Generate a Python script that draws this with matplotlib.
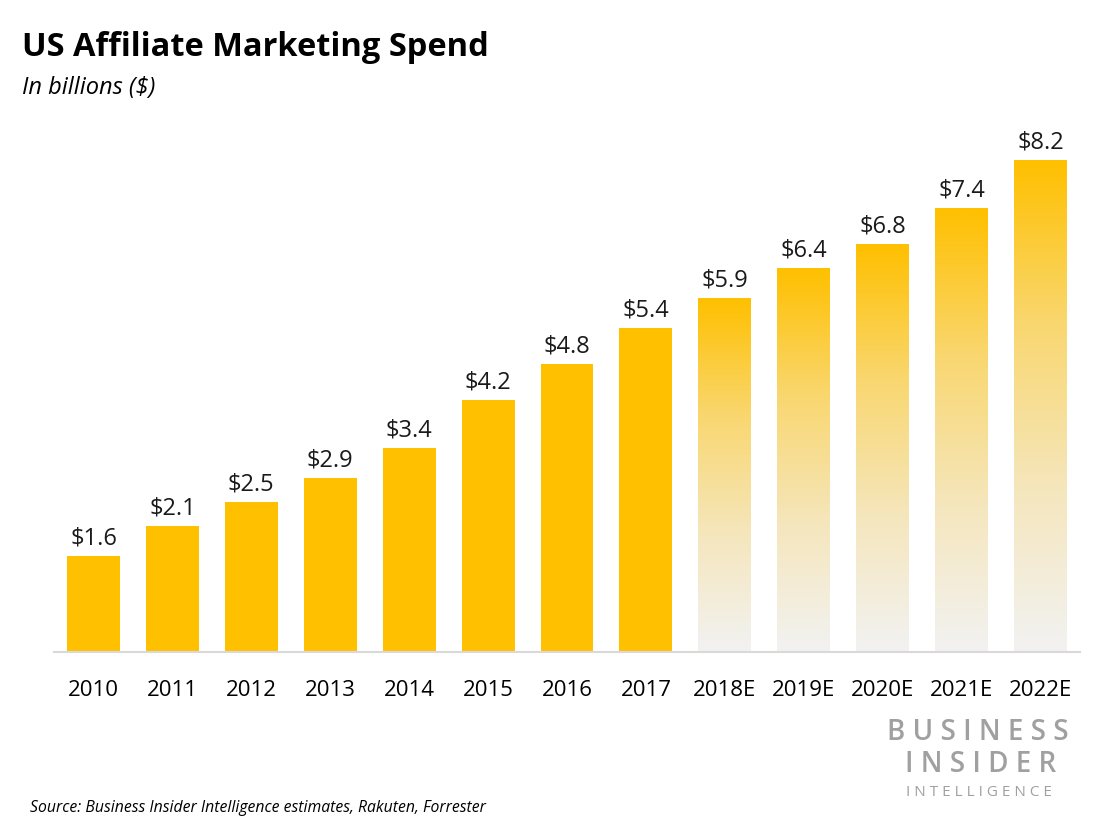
import numpy as np
import matplotlib.pyplot as plt
from matplotlib.colors import LinearSegmentedColormap

# Data
years = ["2010", "2011", "2012", "2013", "2014", "2015", "2016", "2017",
         "2018E", "2019E", "2020E", "2021E", "2022E"]
spend = [1.6, 2.1, 2.5, 2.9, 3.4, 4.2, 4.8, 5.4, 5.9, 6.4, 6.8, 7.4, 8.2]
estimate = [False] * 8 + [True] * 5

gold = "#FFC000"
fade = LinearSegmentedColormap.from_list(
    "fade", ["#F2F2F2", "#F5E6BC", "#F9D770", "#FFC000"])

plt.rcParams["font.family"] = ["Open Sans", "DejaVu Sans"]

fig = plt.figure(figsize=(11.07, 8.35), dpi=100)
ax = fig.add_axes([54 / 1107, 0.219, 1026 / 1107, 0.6467])

x = np.arange(len(years))
bars = ax.bar(x, spend, width=0.67, color=gold, zorder=2)

# estimated years: gradient fill clipped to the bar
grad = np.linspace(0, 1, 256).reshape(-1, 1)
for b, v, est in zip(bars, spend, estimate):
    if not est:
        continue
    b.set_facecolor("none")
    x0 = b.get_x()
    im = ax.imshow(grad, cmap=fade, origin="lower", aspect="auto",
                   extent=[x0, x0 + b.get_width(), 0, v], zorder=1)
    im.set_clip_path(b)

for xi, v in zip(x, spend):
    ax.text(xi, v + 0.1, f"${v}", ha="center", va="bottom",
            fontsize=17, color="#1A1A1A")

ax.set_xlim(-0.5, 12.5)
ax.set_ylim(0, 9)
ax.set_xticks(x)
ax.set_xticklabels(years, fontsize=16, color="black")
ax.tick_params(axis="x", length=0, pad=20)
ax.set_yticks([])
for s in ["top", "right", "left"]:
    ax.spines[s].set_visible(False)
ax.spines["bottom"].set_color("#D9D9D9")
ax.spines["bottom"].set_linewidth(1.5)

# Titles
fig.text(22 / 1107, 1 - 47 / 835, "US Affiliate Marketing Spend",
         fontsize=23.5, fontweight="bold", va="center", ha="left")
fig.text(22 / 1107, 1 - 88 / 835, "In billions ($)",
         fontsize=17, style="italic", va="center", ha="left")

# Source
fig.text(30 / 1107, 1 - 808 / 835,
         "Source: Business Insider Intelligence estimates, Rakuten, Forrester",
         fontsize=11.3, style="italic", va="center", ha="left")

# Logo
logo_grey = "#A0A0A0"
fig.text(978 / 1107, 1 - 732 / 835, "B U S I N E S S", fontsize=20,
         color=logo_grey, ha="center", va="center", fontweight="semibold")
fig.text(981 / 1107, 1 - 765 / 835, "I N S I D E R", fontsize=20,
         color=logo_grey, ha="center", va="center", fontweight="semibold")
fig.text(979 / 1107, 1 - 793 / 835, "I N T E L L I G E N C E", fontsize=11,
         color=logo_grey, ha="center", va="center")

fig.savefig("out.png", dpi=100)
